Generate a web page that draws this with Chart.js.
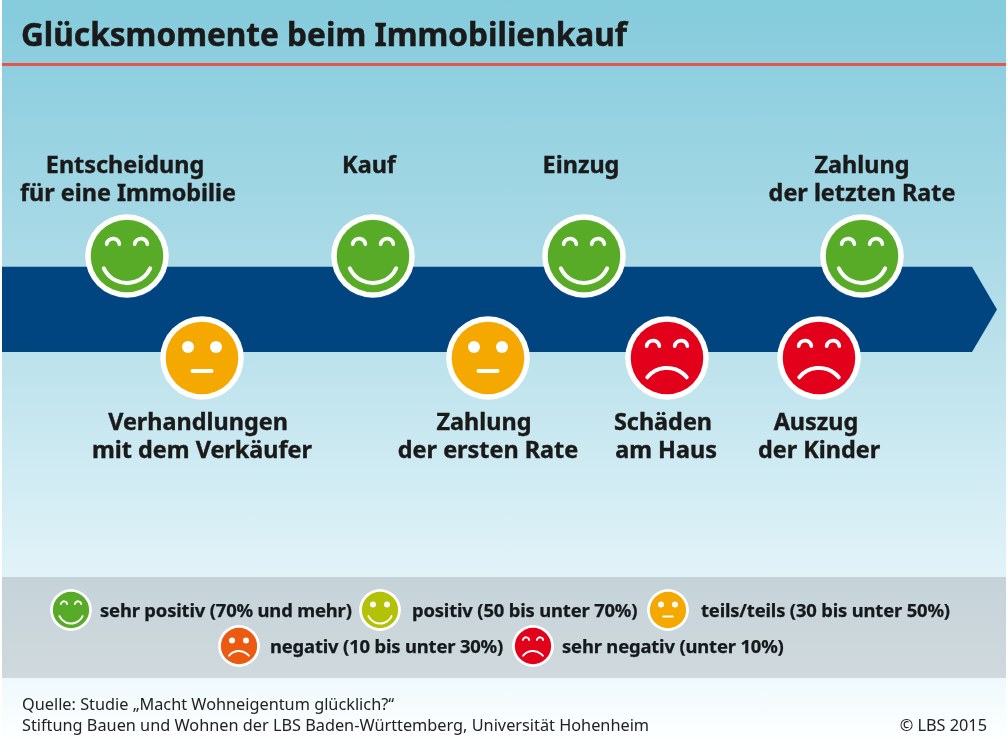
<!DOCTYPE html>
<html lang="de">
<head>
<meta charset="utf-8">
<title>Glücksmomente beim Immobilienkauf</title>
<script src="https://cdn.jsdelivr.net/npm/chart.js@4/dist/chart.umd.min.js"></script>
<style>
  html, body { margin: 0; padding: 0; background: #fff; }
  #page { position: relative; width: 1008px; height: 754px; overflow: hidden; font-family: "Noto Sans", sans-serif; color: #1a1a1a; }
  #sky { position: absolute; left: 2px; right: 2px; top: 0; height: 578px; background: linear-gradient(#84cbdc, #a8d9e6 240px, #e2f3f8); }
  #redLine { position: absolute; left: 2px; right: 2px; top: 63px; height: 3px; background: #e2564c; }
  #legendBand { position: absolute; left: 2px; right: 2px; top: 577px; height: 101px; background: linear-gradient(#c5d3d9, #d0d9dd); }
  #foot { position: absolute; left: 2px; right: 2px; top: 678px; height: 66px; background: linear-gradient(#eff9fc, #fff); }
  #chart { position: absolute; left: 0; top: 0; }
  h1 { position: absolute; left: 21px; top: 10px; margin: 0; font-size: 31.6px; line-height: 48px; font-weight: 700; white-space: nowrap; -webkit-text-stroke: 0.5px #1a1a1a; }
  .legendItem { position: absolute; font-size: 18.4px; letter-spacing: -0.16px; font-weight: 700; line-height: 26px; white-space: nowrap; color: #14191c; -webkit-text-stroke: 0.25px #14191c; }
  .legendItem canvas { position: absolute; }
  .source { position: absolute; font-size: 16.3px; line-height: 22px; white-space: nowrap; color: #222; }
</style>
</head>
<body>
<div id="page">
  <div id="sky"></div>
  <div id="redLine"></div>
  <div id="legendBand"></div>
  <div id="foot"></div>
  <canvas id="chart" width="1008" height="754"></canvas>
  <h1 id="title"></h1>
  <div id="legend"></div>
  <div id="sources"></div>
</div>
<script>
// -------- DATA --------
const titleText = "Glücksmomente beim Immobilienkauf";

// Ereignisse entlang des Pfeils
const events = [
  ["Entscheidung", "für eine Immobilie"],
  ["Verhandlungen", "mit dem Verkäufer"],
  ["Kauf"],
  ["Zahlung", "der ersten Rate"],
  ["Einzug"],
  ["Schäden", "am Haus"],
  ["Auszug", "der Kinder"],
  ["Zahlung", "der letzten Rate"]
];
const positions = [127, 202, 373, 488, 584, 667, 819, 862];
const rows = [1, -1, 1, -1, 1, -1, -1, 1]; // 1 = über dem Pfeil, -1 = darunter
const moods = ["sehrPositiv", "teils", "sehrPositiv", "teils", "sehrPositiv", "sehrNegativ", "sehrNegativ", "sehrPositiv"];

const legendMoods = ["sehrPositiv", "positiv", "teils", "negativ", "sehrNegativ"];
const legendLabels = [
  "sehr positiv (70% und mehr)",
  "positiv (50 bis unter 70%)",
  "teils/teils (30 bis unter 50%)",
  "negativ (10 bis unter 30%)",
  "sehr negativ (unter 10%)"
];
const sourceLines = [
  "Quelle: Studie „Macht Wohneigentum glücklich?“",
  "Stiftung Bauen und Wohnen der LBS Baden-Württemberg, Universität Hohenheim"
];
const copyrightText = "© LBS 2015";

// -------- LAYOUT --------
const moodStyles = {
  sehrPositiv: { color: "#57ab27", eyes: "arc", mouth: "smile" },
  positiv: { color: "#b3c208", eyes: "dot", mouth: "smile" },
  teils: { color: "#f5a800", eyes: "dot", mouth: "flat" },
  negativ: { color: "#ec5a11", eyes: "dot", mouth: "sad" },
  sehrNegativ: { color: "#e2001a", eyes: "arc", mouth: "sad" }
};
const lineShift = [[-2, 1], [-4, 0], [-4], [-4, 0], [-3], [-4, -1], [-3, 0], [0, 0]];
const legendSpots = [[71, 100, 597], [380, 412, 597], [668, 701, 597], [239, 270, 633], [533, 562, 633]];

// Smiley als Canvas (84px = volle Größe)
function makeFace(mood, size) {
  const st = moodStyles[mood];
  const c = document.createElement("canvas");
  c.width = size;
  c.height = size;
  const g = c.getContext("2d");
  g.scale(size / 84, size / 84);
  g.translate(42, 42);
  g.fillStyle = "#fff";
  g.beginPath(); g.arc(0, 0, 41.8, 0, Math.PI * 2); g.fill();
  g.fillStyle = st.color;
  g.beginPath(); g.arc(0, 0, 36.3, 0, Math.PI * 2); g.fill();

  g.strokeStyle = "#fff";
  g.fillStyle = "#fff";
  g.lineCap = "round";
  g.lineWidth = 3.8;
  [-14, 14].forEach(ex => {
    g.beginPath();
    if (st.eyes === "arc") {
      g.arc(ex, -11, 6.4, Math.PI * 1.05, Math.PI * 1.95);
      g.stroke();
    } else {
      g.arc(ex, -11, 6, 0, Math.PI * 2);
      g.fill();
    }
  });

  g.lineWidth = 4;
  g.beginPath();
  if (st.mouth === "smile") {
    g.arc(0, 1.4, 25.6, Math.PI * 0.14, Math.PI * 0.86);
  } else if (st.mouth === "sad") {
    g.arc(0, 35.6, 25.6, Math.PI * 1.22, Math.PI * 1.78);
  } else {
    g.moveTo(-9.5, 13);
    g.lineTo(9.5, 13);
  }
  g.stroke();
  return c;
}

// -------- PLUGINS --------
const arrowPlugin = {
  id: "arrow",
  beforeDatasetsDraw(chart) {
    const { ctx, scales: { x, y } } = chart;
    ctx.save();
    ctx.fillStyle = "#004580";
    ctx.beginPath();
    ctx.moveTo(x.getPixelForValue(2), y.getPixelForValue(0.79));
    ctx.lineTo(x.getPixelForValue(972), y.getPixelForValue(0.79));
    ctx.lineTo(x.getPixelForValue(997), y.getPixelForValue(-0.05));
    ctx.lineTo(x.getPixelForValue(972), y.getPixelForValue(-0.88));
    ctx.lineTo(x.getPixelForValue(2), y.getPixelForValue(-0.88));
    ctx.closePath();
    ctx.fill();
    ctx.restore();
  }
};

const labelPlugin = {
  id: "eventLabels",
  afterDatasetsDraw(chart) {
    const { ctx, scales: { x, y } } = chart;
    ctx.save();
    ctx.font = '700 23.4px "Noto Sans", sans-serif';
    ctx.fillStyle = "#1a1a1a";
    ctx.strokeStyle = "#1a1a1a";
    ctx.lineWidth = 0.4;
    ctx.textAlign = "center";
    ctx.textBaseline = "alphabetic";
    events.forEach((lines, i) => {
      const base = y.getPixelForValue(rows[i]) + (rows[i] > 0 ? -83 : 72);
      lines.forEach((line, k) => {
        const lx = x.getPixelForValue(positions[i]) + lineShift[i][k];
        ctx.fillText(line, lx, base + k * 27.5);
        ctx.strokeText(line, lx, base + k * 27.5);
      });
    });
    ctx.restore();
  }
};

// -------- CHART --------
new Chart(document.getElementById("chart"), {
  type: "scatter",
  data: {
    datasets: [{
      label: "Glücksmomente",
      data: positions.map((p, i) => ({ x: p, y: rows[i] })),
      pointStyle: moods.map(m => makeFace(m, 84)),
      pointRadius: 42,
      pointHoverRadius: 42
    }]
  },
  options: {
    responsive: false,
    animation: false,
    clip: false,
    layout: { padding: 0, autoPadding: false },
    plugins: { legend: { display: false }, tooltip: { enabled: false } },
    scales: {
      x: { type: "linear", min: 0, max: 1008, display: false },
      y: { type: "linear", min: -8.765, max: 6.02, display: false }
    }
  },
  plugins: [arrowPlugin, labelPlugin]
});

// -------- TEXTE --------
document.getElementById("title").textContent = titleText;

const legendDiv = document.getElementById("legend");
legendLabels.forEach((label, i) => {
  const [iconX, textX, top] = legendSpots[i];
  const item = document.createElement("div");
  item.className = "legendItem";
  item.style.left = textX + "px";
  item.style.top = top + "px";
  item.textContent = label;
  const icon = makeFace(legendMoods[i], 42);
  icon.style.left = (iconX - 21 - textX) + "px";
  icon.style.top = "-8px";
  item.appendChild(icon);
  legendDiv.appendChild(item);
});

const sourcesDiv = document.getElementById("sources");
sourceLines.forEach((line, i) => {
  const d = document.createElement("div");
  d.className = "source";
  d.style.left = "22px";
  d.style.top = (693 + i * 21) + "px";
  d.textContent = line;
  sourcesDiv.appendChild(d);
});
const copy = document.createElement("div");
copy.className = "source";
copy.style.right = "21px";
copy.style.top = "714px";
copy.textContent = copyrightText;
sourcesDiv.appendChild(copy);
</script>
</body>
</html>
